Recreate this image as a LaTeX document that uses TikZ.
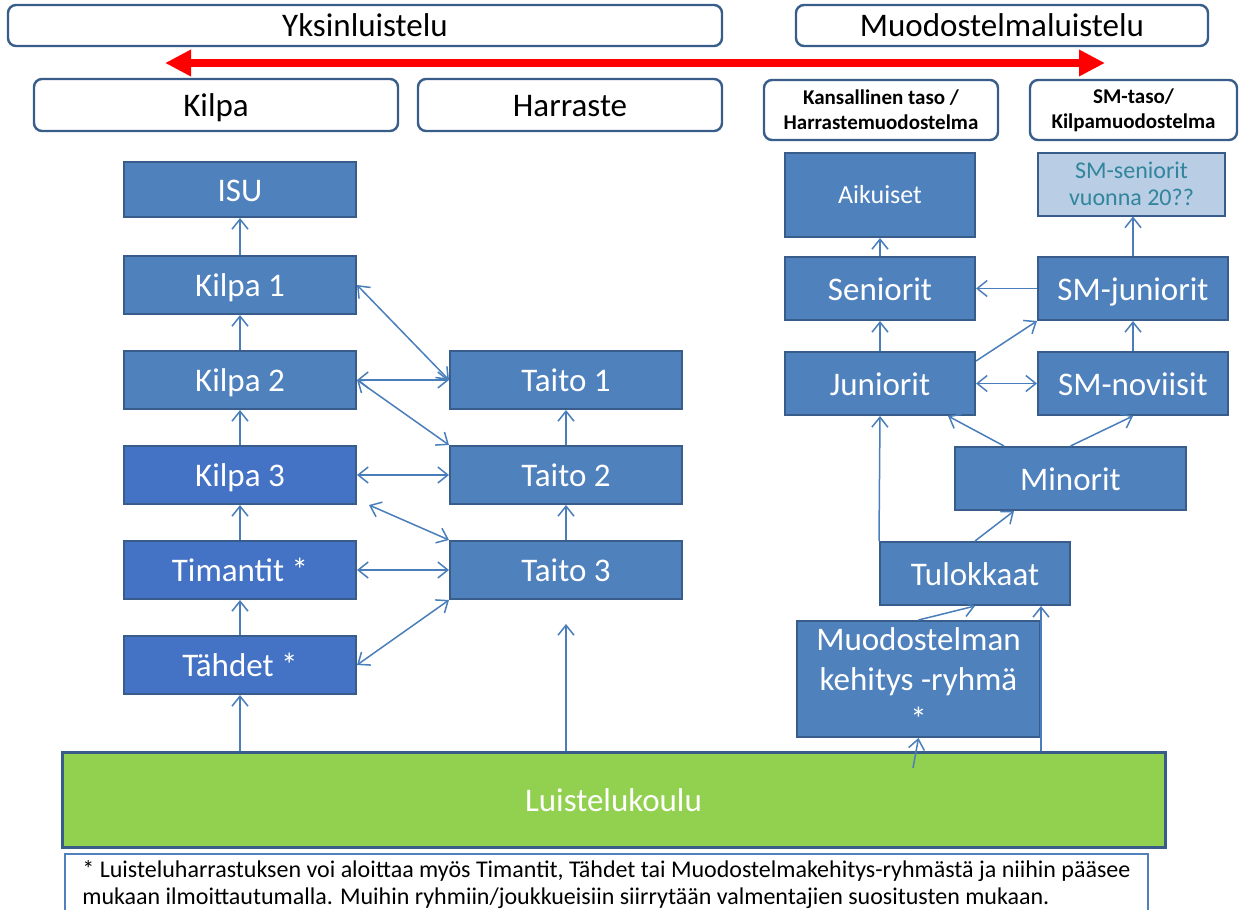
\documentclass[tikz,border=0pt]{standalone}
\usepackage{fontspec}
\setmainfont{Carlito}
\usetikzlibrary{arrows.meta}

\definecolor{boxline}{RGB}{56,93,138}
\definecolor{boxfill}{RGB}{79,129,189}
\definecolor{boxfillb}{RGB}{68,114,196}
\definecolor{arrowblue}{RGB}{74,126,187}
\definecolor{lightfill}{RGB}{185,205,229}
\definecolor{tealtext}{RGB}{49,133,156}
\definecolor{grass}{RGB}{146,208,80}

\begin{document}
\begin{tikzpicture}[x=0.5pt,y=-0.5pt,node distance=47.5pt,
  header/.style={draw=boxline,line width=1.2pt,rounded corners=4pt,fill=white,
    font=\fontsize{16.5}{20}\selectfont,inner sep=0pt,minimum height=20.5pt,text height=14.5pt,text depth=3.5pt},
  subhead/.style={draw=boxline,line width=1.2pt,rounded corners=4pt,fill=white,inner sep=0pt,
    font=\bfseries\fontsize{10.5}{12.5}\selectfont,align=center,minimum height=30pt},
  box/.style={draw=boxline,line width=1pt,fill=boxfill,text=white,font=\fontsize{16.5}{20}\selectfont,
    minimum width=116pt,minimum height=29pt,inner sep=0pt,align=center},
  grp/.style={box,text height=15pt,text depth=3.5pt},
  grpb/.style={grp,fill=boxfillb},
  team/.style={grp,minimum width=95pt,minimum height=31.5pt},
  teamm/.style={box,minimum width=95pt,minimum height=31.5pt},
  conn/.style={arrowblue,line width=0.75pt},
  >={Straight Barb[length=5pt,width=8pt]}]
  \useasboundingbox (0,0) rectangle (1239,910);

  % otsikot
  \node[header,minimum width=357pt] (yksin) at (365,25.5) {Yksinluistelu};
  \node[header,minimum width=206pt] (muodo) at (1002,25.5) {Muodostelmaluistelu};
  \node[header,minimum width=182pt,minimum height=26pt] (kilpa) at (216,105) {Kilpa};
  \node[header,minimum width=152pt,minimum height=26pt] (harraste) at (570,105) {Harraste};
  \node[subhead,minimum width=117pt] (kansallinen) at (881,110) {Kansallinen taso /\\Harrastemuodostelma};
  \node[subhead,minimum width=103.5pt] (smtaso) at (1133.5,110) {SM-taso/\\Kilpamuodostelma};

  \coordinate (redl) at (165,63);
  \coordinate (redr) at (1105,63);
  \draw[red,line width=4pt,{Triangle[length=13pt,width=12.5pt]}-{Triangle[length=13pt,width=12.5pt]}] (redl) -- (redr);

  % yksinluistelu
  \node[grp,minimum height=27.5pt] (isu) at (240,189.5) {ISU};
  \node[grp] (kilpa1) at (240,285) {Kilpa 1};
  \node[grp,below of=kilpa1] (kilpa2) {Kilpa 2};
  \node[grpb,below of=kilpa2] (kilpa3) {Kilpa 3};
  \node[grpb,below of=kilpa3] (timantit) {Timantit *};
  \node[grpb,below of=timantit] (tahdet) {Tähdet *};
  \node[grp,right of=kilpa2,node distance=163pt] (taito1) {Taito 1};
  \node[grp,below of=taito1] (taito2) {Taito 2};
  \node[grp,below of=taito2] (taito3) {Taito 3};

  % muodostelmaluistelu
  \node[team,minimum height=42pt,font=\fontsize{13}{16}\selectfont,text height=11pt,text depth=2.5pt] (aikuiset) at (880,195) {Aikuiset};
  \node[teamm,fill=lightfill,text=tealtext,minimum width=93.5pt,font=\fontsize{12}{13.5}\selectfont] (smsen) at (1131.5,184) {SM-seniorit\\vuonna 20??};
  \node[team] (seniorit) at (880,288.5) {Seniorit};
  \node[team,below of=seniorit] (juniorit) {Juniorit};
  \node[team,right of=seniorit,node distance=126.5pt] (smjun) {SM-juniorit};
  \node[team,below of=smjun] (smnov) {SM-noviisit};
  \node[team,minimum width=115.5pt] (minorit) at (1070.5,478.5) {Minorit};
  \node[team] (tulokkaat) at (975,573.5) {Tulokkaat};
  \node[teamm,minimum width=121.5pt,minimum height=58pt] (kehitys) at (918.5,679) {Muodostelman\\kehitys -ryhmä\\*};

  \node[draw=boxline,line width=1.5pt,fill=grass,text=white,font=\fontsize{16.5}{20}\selectfont,
    text height=15pt,text depth=3.5pt,minimum width=551.5pt,minimum height=47.5pt] (koulu) at (613.5,799.5) {Luistelukoulu};
  \node[draw=boxfill,line width=0.8pt,minimum width=541.5pt,minimum height=30pt,align=left,
    font=\fontsize{12}{13.5}\selectfont] (note) at (606.5,885)
    {* Luisteluharrastuksen voi aloittaa myös Timantit, Tähdet tai Muodostelmakehitys-ryhmästä ja niihin pääsee\\
     mukaan ilmoittautumalla. Muihin ryhmiin/joukkueisiin siirrytään valmentajien suositusten mukaan.};
  \coordinate (kstart) at (913,768);

  \path[conn,->]
  (kilpa1) edge (isu)
  (kilpa2) edge (kilpa1)
  (kilpa3) edge (kilpa2)
  (timantit) edge (kilpa3)
  (tahdet) edge (timantit)
  (koulu.north -| tahdet.south) edge (tahdet)
  (taito3) edge (taito2)
  (taito2) edge (taito1)
  (koulu.north -| taito3.south) edge[shorten >=12pt] (taito3)
  (kilpa1.east) edge[<->] (taito1.west)
  (kilpa2.east) edge[<->] (taito1.west)
  (kilpa2.east) edge[<->] (taito2.north west)
  (kilpa3.east) edge[<->] (taito2.west)
  ([xshift=6pt]kilpa3.south east) edge[<->] (taito3.north west)
  (timantit.east) edge[<->] (taito3.west)
  (tahdet.east) edge[<->] (taito3.south west);

  \path[conn,->]
  (seniorit) edge (aikuiset)
  (smjun.north) edge (smjun.north |- smsen.south)
  (smjun) edge (seniorit)
  (juniorit) edge (seniorit)
  ([yshift=-5pt]juniorit.north east) edge (smjun.south west)
  (juniorit) edge[<->] (smnov)
  (smnov) edge (smjun)
  ([xshift=25pt]minorit.north west) edge ([xshift=-14pt]juniorit.south east)
  (minorit.north) edge (smnov.south)
  (tulokkaat.north) edge ([xshift=30pt]minorit.south west)
  (tulokkaat.north west) edge (juniorit.south)
  (kehitys.north) edge (tulokkaat.south)
  (koulu.north -| kehitys.east) edge (kehitys.east |- tulokkaat.south)
  (kstart) edge (kehitys.south);
\end{tikzpicture}
\end{document}
